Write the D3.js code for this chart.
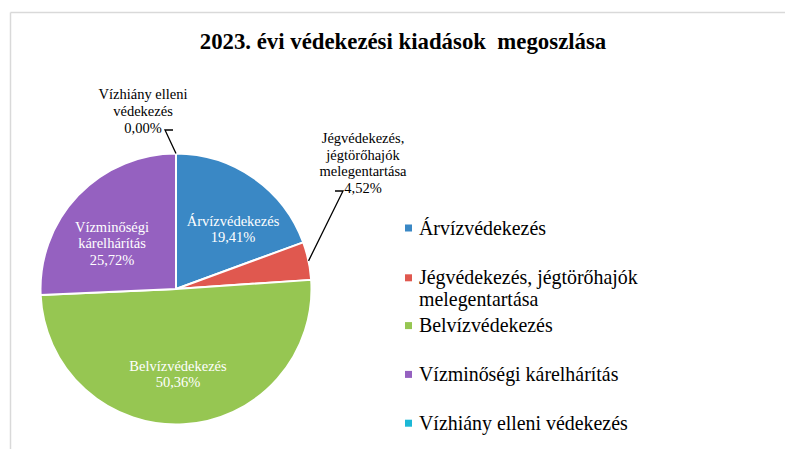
<!DOCTYPE html>
<html>
<head>
<meta charset="utf-8">
<script src="https://cdn.jsdelivr.net/npm/d3@7"></script>
<style>
  html, body { margin: 0; padding: 0; background: #fff; }
  svg { display: block; }
  text { font-family: "Liberation Serif", "Times New Roman", serif; }
</style>
</head>
<body>
<svg id="chart" width="785" height="449"></svg>
<script>
// Expenditure shares by category (percent)
const categories = [
  "Árvízvédekezés",
  "Jégvédekezés, jégtörőhajók melegentartása",
  "Belvízvédekezés",
  "Vízminőségi kárelhárítás",
  "Vízhiány elleni védekezés"
];
const shares = [19.41, 4.52, 50.36, 25.72, 0.00];
const colors = ["#3A88C5", "#E0584F", "#96C652", "#9561C0", "#1CB8D6"];
const titleText = "2023. évi védekezési kiadások  megoszlása";

const svg = d3.select("#chart");
const W = 785, H = 449;

// frame (top and left edges only)
svg.append("line").attr("x1", 10.5).attr("y1", 12.5).attr("x2", W).attr("y2", 12.5)
  .attr("stroke", "#d9d9d9").attr("stroke-width", 1.5);
svg.append("line").attr("x1", 10.5).attr("y1", 12.5).attr("x2", 10.5).attr("y2", H)
  .attr("stroke", "#d9d9d9").attr("stroke-width", 1.5);

// title
svg.append("text")
  .attr("x", 403).attr("y", 49)
  .attr("text-anchor", "middle")
  .style("white-space", "pre")
  .attr("font-size", 22.8).attr("font-weight", "bold").attr("fill", "#000")
  .text(titleText);

// pie
const cx = 176, cy = 289, R = 135.5;
const data = categories.map((c, i) => ({ name: c, value: shares[i], color: colors[i], idx: i }));
const pie = d3.pie().sort(null).value(d => d.value).startAngle(0).endAngle(2 * Math.PI);
const arcs = pie(data);
const arc = d3.arc().innerRadius(0).outerRadius(R);

const g = svg.append("g").attr("transform", `translate(${cx},${cy})`);
g.selectAll("path.slice")
  .data(arcs.filter(a => a.data.value > 0))
  .join("path")
  .attr("class", "slice")
  .attr("d", arc)
  .attr("fill", d => d.data.color)
  .attr("stroke", "#fff")
  .attr("stroke-width", 2)
  .attr("stroke-linejoin", "round");

const fmt = v => v.toFixed(2).replace(".", ",") + "%";

// word wrap helper using measured text width
function wrapWords(str, maxW, size) {
  const tmp = svg.append("text").attr("font-size", size).attr("visibility", "hidden");
  const words = str.split(" ");
  const lines = [];
  let cur = "";
  for (const w of words) {
    const test = cur ? cur + " " + w : w;
    tmp.text(test);
    if (cur && tmp.node().getComputedTextLength() > maxW) {
      lines.push(cur);
      cur = w;
    } else cur = test;
  }
  if (cur) lines.push(cur);
  tmp.remove();
  return lines;
}

// data label placement (block centre relative to pie centre), inside or outside
const labelLayout = [
  { dx: 57, dy: -60, inside: true },
  { dx: 187, dy: -126, inside: false, leader: [[-20, 28], [-28, 28]] },
  { dx: 2, dy: 85, inside: true },
  { dx: -64, dy: -45.5, inside: true },
  { dx: -33, dy: -178, inside: false, leader: [[22, 19], [30, 19]] }
];
const lblSize = 14.5, lblLH = 16.6;

arcs.forEach((a, i) => {
  const L = labelLayout[i];
  const lines = wrapWords(a.data.name, 102, lblSize).concat([fmt(a.data.value)]);
  const bx = cx + L.dx, by = cy + L.dy;
  const top = by - (lines.length - 1) * lblLH / 2;
  const t = svg.append("text")
    .attr("text-anchor", "middle")
    .attr("font-size", lblSize)
    .attr("fill", L.inside ? "#fff" : "#000");
  lines.forEach((ln, k) => {
    t.append("tspan").attr("x", bx).attr("y", top + k * lblLH + lblSize * 0.34).text(ln);
  });
  if (L.leader) {
    const mid = (a.startAngle + a.endAngle) / 2;
    const px = cx + R * Math.sin(mid), py = cy - R * Math.cos(mid);
    const p1 = [bx + L.leader[0][0], by + L.leader[0][1]];
    const p2 = [bx + L.leader[1][0], by + L.leader[1][1]];
    svg.append("path")
      .attr("d", d3.line()([p2, p1, [px, py]]))
      .attr("fill", "none").attr("stroke", "#000").attr("stroke-width", 1.3);
  }
});

// legend
const legX = 405, legY0 = 228, legStep = 48.8, legSize = 19.9, legLH = 22;
const leg = svg.append("g");
data.forEach((d, i) => {
  const y = legY0 + i * legStep + (i === 1 ? 1 : 0);
  leg.append("rect").attr("x", legX).attr("y", y - 3.5).attr("width", 7).attr("height", 7).attr("fill", d.color);
  const lines = wrapWords(d.name, 236, legSize);
  const t = leg.append("text").attr("font-size", legSize).attr("fill", "#000");
  lines.forEach((ln, k) => {
    t.append("tspan").attr("x", legX + 14).attr("y", y + k * legLH + legSize * 0.33).text(ln);
  });
});
</script>
</body>
</html>
